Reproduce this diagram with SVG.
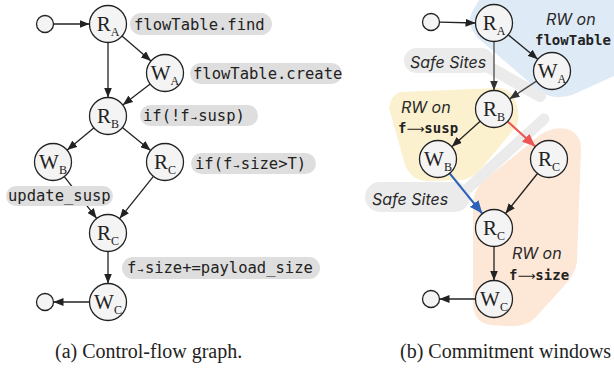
<svg xmlns="http://www.w3.org/2000/svg" width="614" height="371" viewBox="0 0 614 371">
<style>
.node{fill:#f4f4f4;stroke:#222;stroke-width:1.3}
.lbl{font-family:"Liberation Serif",serif;font-size:21px;fill:#222;text-anchor:middle}
.sub{font-size:12px}
.edge{stroke:#222;stroke-width:1.3;fill:none;marker-end:url(#ah)}
.gedge{stroke:#4a4a4a;stroke-width:1.3;fill:none;marker-end:url(#ahg)}
.pill{fill:#dedede}
.code{font-family:"DejaVu Sans Mono",monospace;font-size:15.5px;fill:#222}
.arr{font-size:10px}
.band{stroke:#ebebeb;fill:none;stroke-linecap:round}
.it{font-family:Inter,"Noto Sans",sans-serif;font-style:italic;font-size:16px;fill:#2a2a2a}
.bm{font-family:"DejaVu Sans Mono",monospace;font-weight:bold;font-size:14px;fill:#222}
.la{font-family:"DejaVu Sans",sans-serif;font-weight:normal;font-size:12.5px}
.cap{font-family:"Liberation Serif",serif;font-size:20px;fill:#222}
</style>
<defs>
<marker id="ah" markerUnits="userSpaceOnUse" markerWidth="10" markerHeight="8" refX="10" refY="4" orient="auto"><path d="M0,0 L10,4 L0,8 z" fill="#222"/></marker>
<marker id="ahg" markerUnits="userSpaceOnUse" markerWidth="10" markerHeight="8" refX="10" refY="4" orient="auto"><path d="M0,0 L10,4 L0,8 z" fill="#333"/></marker>
<marker id="ahr" markerUnits="userSpaceOnUse" markerWidth="13" markerHeight="11" refX="13" refY="5.5" orient="auto"><path d="M0,0 L13,5.5 L0,11 z" fill="#ee5555"/></marker>
<marker id="ahb" markerUnits="userSpaceOnUse" markerWidth="13" markerHeight="11" refX="13" refY="5.5" orient="auto"><path d="M0,0 L13,5.5 L0,11 z" fill="#2d62b8"/></marker>
</defs>

<g id="regions">
<path id="region-flowTable" d="M482,-5 L472,12 Q466,26 478,38 L538,90 Q552,101 572,95 L614,76 L614,-5 Z" fill="#deeaf6"/>
<path id="region-susp" d="M400,92 Q391,95 389,108 L405,165 Q412,182 430,181 L462,180 Q472,178 480,170 L515,128 Q522,118 515,100 Q510,88 498,88 Z" fill="#fcf1ce"/>
<path id="region-size" d="M540,135 Q555,125 570,130 Q582,136 581,150 L577,262 Q575,275 565,285 L535,318 Q525,328 505,326 L490,325 Q474,322 473,305 L473,205 Q473,192 482,182 Z" fill="#fde8d8"/>
</g>

<g id="safe-sites">
<rect x="404" y="48" width="90" height="25" rx="12.5" fill="#ebebeb"/>
<line class="band" x1="480" y1="62" x2="540" y2="96" stroke-width="12"/>
<rect x="365" y="182" width="105" height="30" rx="15" fill="#ebebeb"/>
<line class="band" x1="544" y1="119" x2="466" y2="190" stroke-width="11"/>
<text class="it" x="410" y="68">Safe Sites</text>
<text class="it" x="372" y="205">Safe Sites</text>
</g>

<g id="connectors">
<line class="edge" x1="53.5" y1="24" x2="89.5" y2="24"/>
<line class="edge" x1="122" y1="36.1" x2="151" y2="60.9"/>
<line class="edge" x1="108" y1="42.5" x2="108" y2="97.5"/>
<line class="edge" x1="150.2" y1="84.1" x2="122.8" y2="104.9"/>
<line class="edge" x1="93.8" y1="127.9" x2="67.2" y2="150.1"/>
<line class="edge" x1="122.4" y1="127.6" x2="150.6" y2="150.4"/>
<line class="edge" x1="64.3" y1="176.6" x2="96.7" y2="218.4"/>
<line class="edge" x1="153.4" y1="176.4" x2="119.6" y2="218.6"/>
<line class="edge" x1="108" y1="251.5" x2="108" y2="283.5"/>
<line class="edge" x1="89.5" y1="302" x2="53.5" y2="302"/>

<line class="edge" x1="439.5" y1="22.1" x2="475.5" y2="23"/>
<line class="edge" x1="508.2" y1="34.8" x2="537.8" y2="59.2"/>
<line class="gedge" x1="494" y1="41.5" x2="494" y2="90.5"/>
<line class="gedge" x1="536.5" y1="81.1" x2="509.5" y2="98.9"/>
<line class="edge" x1="480.2" y1="121.3" x2="451.8" y2="146.7"/>
<line x1="507.7" y1="121.5" x2="535.3" y2="146.5" stroke="#ee5555" stroke-width="2.2" marker-end="url(#ahr)"/>
<line x1="449.7" y1="173.4" x2="482.3" y2="213.6" stroke="#2d62b8" stroke-width="2.2" marker-end="url(#ahb)"/>
<line class="edge" x1="537.5" y1="173.5" x2="505.5" y2="213.5"/>
<line class="edge" x1="494" y1="246.5" x2="494" y2="280.5"/>
<line class="edge" x1="475.5" y1="299" x2="439.5" y2="299"/>
</g>

<g id="code-labels">
<rect class="pill" x="130" y="13" width="142" height="22" rx="11"/>
<text class="code" x="134" y="29.5">flowTable.find</text>
<rect class="pill" x="190" y="63" width="152" height="21" rx="10.5"/>
<text class="code" x="193" y="78.5">flowTable.create</text>
<rect class="pill" x="140" y="105" width="118" height="21" rx="10.5"/>
<text class="code" x="143" y="120.5">if(!f<tspan class="arr" dx="1">→</tspan><tspan dx="1.5">susp)</tspan></text>
<rect class="pill" x="191" y="153" width="125" height="21" rx="10.5"/>
<text class="code" x="195" y="168.5">if(f<tspan class="arr" dx="1">→</tspan><tspan dx="1.5">size&gt;T)</tspan></text>
<rect class="pill" x="6" y="186" width="107" height="20" rx="10"/>
<text class="code" x="8" y="201">update_susp</text>
<rect class="pill" x="122" y="257" width="198" height="22" rx="11"/>
<text class="code" x="127" y="273">f<tspan class="arr" dx="1">→</tspan><tspan dx="1.5">size+=payload_size</tspan></text>
</g>

<g id="region-labels">
<text class="it" x="546" y="25">RW on</text>
<text class="bm" x="535" y="45">flowTable</text>
<text class="it" x="401" y="113">RW on</text>
<text class="bm" x="398" y="133">f<tspan class="la">⟶</tspan><tspan>susp</tspan></text>
<text class="it" x="512" y="259">RW on</text>
<text class="bm" x="509" y="280">f<tspan class="la">⟶</tspan><tspan>size</tspan></text>
</g>

<g id="a-start"><circle class="node" cx="45" cy="24" r="8.5"/></g>
<g id="a-RA"><circle class="node" cx="108" cy="24" r="18.5"/><text class="lbl" x="108" y="31">R<tspan class="sub" dy="5">A</tspan></text></g>
<g id="a-WA"><circle class="node" cx="165" cy="73" r="18.5"/><text class="lbl" x="165" y="80">W<tspan class="sub" dy="5">A</tspan></text></g>
<g id="a-RB"><circle class="node" cx="108" cy="116" r="18.5"/><text class="lbl" x="108" y="123">R<tspan class="sub" dy="5">B</tspan></text></g>
<g id="a-WB"><circle class="node" cx="53" cy="162" r="18.5"/><text class="lbl" x="53" y="169">W<tspan class="sub" dy="5">B</tspan></text></g>
<g id="a-RC1"><circle class="node" cx="165" cy="162" r="18.5"/><text class="lbl" x="165" y="169">R<tspan class="sub" dy="5">C</tspan></text></g>
<g id="a-RC2"><circle class="node" cx="108" cy="233" r="18.5"/><text class="lbl" x="108" y="240">R<tspan class="sub" dy="5">C</tspan></text></g>
<g id="a-WC"><circle class="node" cx="108" cy="302" r="18.5"/><text class="lbl" x="108" y="309">W<tspan class="sub" dy="5">C</tspan></text></g>
<g id="a-end"><circle class="node" cx="45" cy="302" r="8.5"/></g>

<g id="b-start"><circle class="node" cx="431" cy="22" r="8.5"/></g>
<g id="b-RA"><circle class="node" cx="494" cy="23" r="18.5"/><text class="lbl" x="494" y="30">R<tspan class="sub" dy="5">A</tspan></text></g>
<g id="b-WA"><circle class="node" cx="552" cy="71" r="18.5"/><text class="lbl" x="552" y="78">W<tspan class="sub" dy="5">A</tspan></text></g>
<g id="b-RB"><circle class="node" cx="494" cy="109" r="18.5"/><text class="lbl" x="494" y="116">R<tspan class="sub" dy="5">B</tspan></text></g>
<g id="b-WB"><circle class="node" cx="438" cy="159" r="18.5"/><text class="lbl" x="438" y="166">W<tspan class="sub" dy="5">B</tspan></text></g>
<g id="b-RC1"><circle class="node" cx="549" cy="159" r="18.5"/><text class="lbl" x="549" y="166">R<tspan class="sub" dy="5">C</tspan></text></g>
<g id="b-RC2"><circle class="node" cx="494" cy="228" r="18.5"/><text class="lbl" x="494" y="235">R<tspan class="sub" dy="5">C</tspan></text></g>
<g id="b-WC"><circle class="node" cx="494" cy="299" r="18.5"/><text class="lbl" x="494" y="306">W<tspan class="sub" dy="5">C</tspan></text></g>
<g id="b-end"><circle class="node" cx="431" cy="299" r="8.5"/></g>

<g id="captions">
<text class="cap" x="55" y="358">(a) Control-flow graph.</text>
<text class="cap" x="400" y="358">(b) Commitment windows</text>
</g>
</svg>
